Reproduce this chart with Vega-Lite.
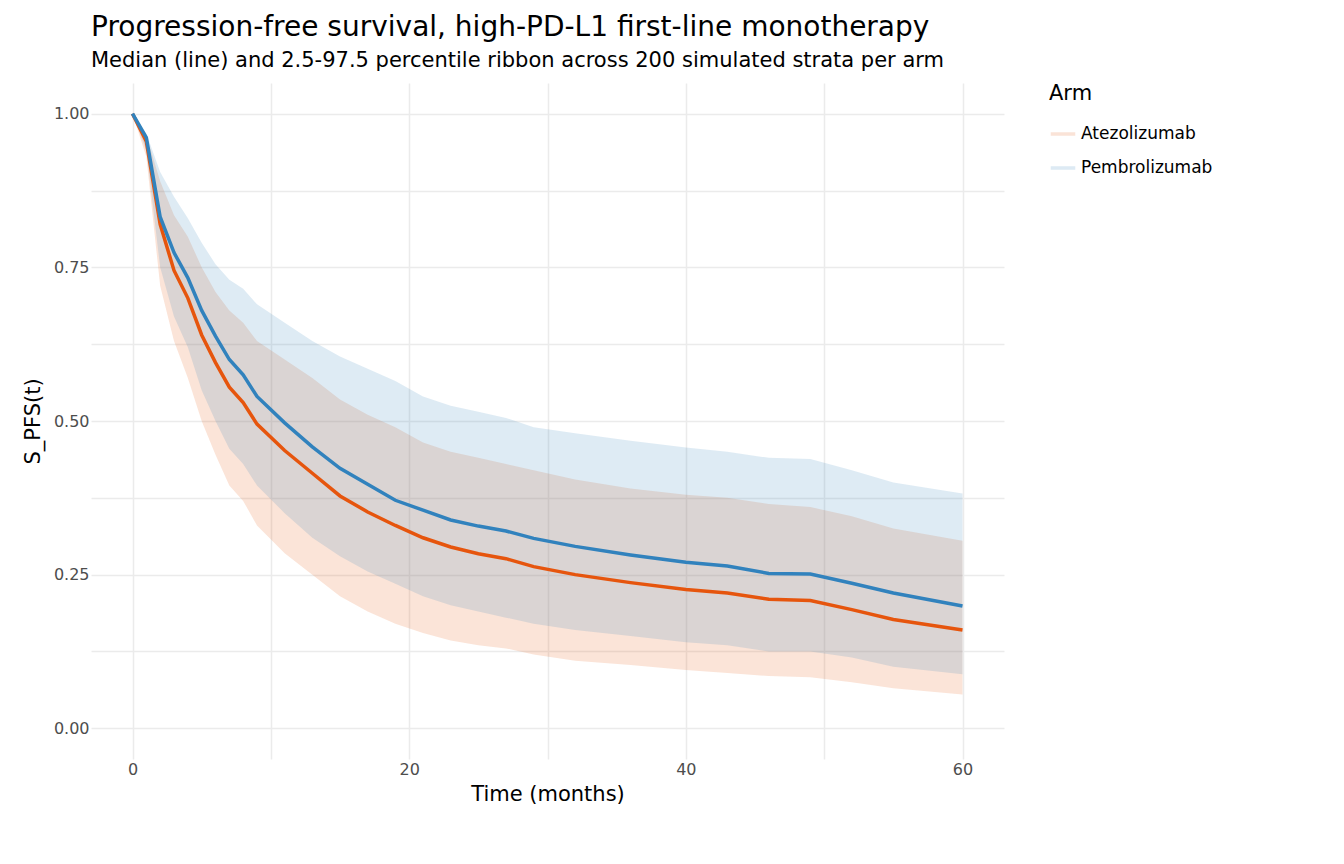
{
  "$schema": "https://vega.github.io/schema/vega-lite/v6.json",
  "width": 913,
  "height": 676,
  "padding": {"left": 22, "top": 14, "right": 10, "bottom": 10},
  "background": "white",
  "config": {
    "font": "DejaVu Sans",
    "view": {"stroke": null},
    "axis": {"domain": false, "ticks": false, "gridColor": "#ebebeb", "gridWidth": 1.5, "labelColor": "#4d4d4d", "labelFontSize": 16, "titleFontSize": 21, "titleFontWeight": "normal", "titleColor": "black"},
    "legend": {"titleFontSize": 21, "titleFontWeight": "normal", "labelFontSize": 17}
  },
  "title": {
    "text": "Progression-free survival, high-PD-L1 first-line monotherapy",
    "subtitle": "Median (line) and 2.5-97.5 percentile ribbon across 200 simulated strata per arm",
    "anchor": "start", "frame": "group", "fontSize": 28, "fontWeight": "normal",
    "subtitleFontSize": 21, "subtitleColor": "black", "offset": 12, "subtitlePadding": 8
  },
  "data": {"values": [
    {"arm":"Atezolizumab","t":0,"med":1.0,"lo":1.0,"hi":1.0},
    {"arm":"Atezolizumab","t":1,"med":0.955,"lo":0.93,"hi":0.965},
    {"arm":"Atezolizumab","t":2,"med":0.82,"lo":0.72,"hi":0.89},
    {"arm":"Atezolizumab","t":3,"med":0.745,"lo":0.63,"hi":0.835},
    {"arm":"Atezolizumab","t":4,"med":0.70,"lo":0.57,"hi":0.80},
    {"arm":"Atezolizumab","t":5,"med":0.64,"lo":0.50,"hi":0.75},
    {"arm":"Atezolizumab","t":6,"med":0.595,"lo":0.445,"hi":0.71},
    {"arm":"Atezolizumab","t":7,"med":0.555,"lo":0.395,"hi":0.68},
    {"arm":"Atezolizumab","t":8,"med":0.53,"lo":0.37,"hi":0.66},
    {"arm":"Atezolizumab","t":9,"med":0.495,"lo":0.33,"hi":0.63},
    {"arm":"Atezolizumab","t":11,"med":0.452,"lo":0.285,"hi":0.60},
    {"arm":"Atezolizumab","t":13,"med":0.415,"lo":0.25,"hi":0.57},
    {"arm":"Atezolizumab","t":15,"med":0.378,"lo":0.215,"hi":0.535},
    {"arm":"Atezolizumab","t":17,"med":0.352,"lo":0.19,"hi":0.51},
    {"arm":"Atezolizumab","t":19,"med":0.33,"lo":0.17,"hi":0.49},
    {"arm":"Atezolizumab","t":21,"med":0.31,"lo":0.155,"hi":0.465},
    {"arm":"Atezolizumab","t":23,"med":0.295,"lo":0.143,"hi":0.45},
    {"arm":"Atezolizumab","t":25,"med":0.284,"lo":0.135,"hi":0.44},
    {"arm":"Atezolizumab","t":27,"med":0.276,"lo":0.13,"hi":0.43},
    {"arm":"Atezolizumab","t":29,"med":0.263,"lo":0.12,"hi":0.42},
    {"arm":"Atezolizumab","t":32,"med":0.25,"lo":0.11,"hi":0.405},
    {"arm":"Atezolizumab","t":36,"med":0.237,"lo":0.103,"hi":0.39},
    {"arm":"Atezolizumab","t":40,"med":0.226,"lo":0.095,"hi":0.38},
    {"arm":"Atezolizumab","t":43,"med":0.22,"lo":0.09,"hi":0.375},
    {"arm":"Atezolizumab","t":46,"med":0.21,"lo":0.085,"hi":0.365},
    {"arm":"Atezolizumab","t":49,"med":0.208,"lo":0.083,"hi":0.36},
    {"arm":"Atezolizumab","t":52,"med":0.193,"lo":0.075,"hi":0.345},
    {"arm":"Atezolizumab","t":55,"med":0.177,"lo":0.065,"hi":0.325},
    {"arm":"Atezolizumab","t":60,"med":0.16,"lo":0.055,"hi":0.305},
    {"arm":"Pembrolizumab","t":0,"med":1.0,"lo":1.0,"hi":1.0},
    {"arm":"Pembrolizumab","t":1,"med":0.961,"lo":0.94,"hi":0.968},
    {"arm":"Pembrolizumab","t":2,"med":0.832,"lo":0.75,"hi":0.905},
    {"arm":"Pembrolizumab","t":3,"med":0.774,"lo":0.67,"hi":0.865},
    {"arm":"Pembrolizumab","t":4,"med":0.733,"lo":0.62,"hi":0.83},
    {"arm":"Pembrolizumab","t":5,"med":0.68,"lo":0.55,"hi":0.79},
    {"arm":"Pembrolizumab","t":6,"med":0.638,"lo":0.50,"hi":0.755},
    {"arm":"Pembrolizumab","t":7,"med":0.60,"lo":0.455,"hi":0.73},
    {"arm":"Pembrolizumab","t":8,"med":0.575,"lo":0.43,"hi":0.715},
    {"arm":"Pembrolizumab","t":9,"med":0.54,"lo":0.395,"hi":0.69},
    {"arm":"Pembrolizumab","t":11,"med":0.497,"lo":0.35,"hi":0.66},
    {"arm":"Pembrolizumab","t":13,"med":0.458,"lo":0.31,"hi":0.63},
    {"arm":"Pembrolizumab","t":15,"med":0.423,"lo":0.28,"hi":0.605},
    {"arm":"Pembrolizumab","t":17,"med":0.397,"lo":0.255,"hi":0.585},
    {"arm":"Pembrolizumab","t":19,"med":0.371,"lo":0.235,"hi":0.565},
    {"arm":"Pembrolizumab","t":21,"med":0.355,"lo":0.215,"hi":0.54},
    {"arm":"Pembrolizumab","t":23,"med":0.339,"lo":0.2,"hi":0.525},
    {"arm":"Pembrolizumab","t":25,"med":0.329,"lo":0.19,"hi":0.515},
    {"arm":"Pembrolizumab","t":27,"med":0.321,"lo":0.18,"hi":0.505},
    {"arm":"Pembrolizumab","t":29,"med":0.309,"lo":0.17,"hi":0.49},
    {"arm":"Pembrolizumab","t":32,"med":0.296,"lo":0.16,"hi":0.48},
    {"arm":"Pembrolizumab","t":36,"med":0.282,"lo":0.15,"hi":0.468},
    {"arm":"Pembrolizumab","t":40,"med":0.27,"lo":0.14,"hi":0.457},
    {"arm":"Pembrolizumab","t":43,"med":0.264,"lo":0.135,"hi":0.45},
    {"arm":"Pembrolizumab","t":46,"med":0.252,"lo":0.125,"hi":0.44},
    {"arm":"Pembrolizumab","t":49,"med":0.251,"lo":0.125,"hi":0.438},
    {"arm":"Pembrolizumab","t":52,"med":0.236,"lo":0.115,"hi":0.42},
    {"arm":"Pembrolizumab","t":55,"med":0.22,"lo":0.10,"hi":0.40},
    {"arm":"Pembrolizumab","t":60,"med":0.199,"lo":0.088,"hi":0.382}
  ]},
  "encoding": {
    "x": {"field": "t", "type": "quantitative", "title": "Time (months)",
      "scale": {"domain": [-3, 63], "nice": false, "zero": false},
      "axis": {"values": [0, 10, 20, 30, 40, 50, 60], "labelExpr": "datum.value % 20 === 0 ? datum.label : ''", "titlePadding": 6}},
    "color": {"field": "arm", "type": "nominal", "title": "Arm",
      "scale": {"domain": ["Atezolizumab", "Pembrolizumab"], "range": ["#E6550D", "#3182BD"]},
      "legend": {"symbolType": "stroke", "symbolStrokeWidth": 3.5, "symbolSize": 600, "rowPadding": 12, "titlePadding": 16, "offset": 45, "orient": "right"}}
  },
  "layer": [
    {
      "mark": {"type": "area", "opacity": 0.16},
      "encoding": {
        "y": {"field": "lo", "type": "quantitative"},
        "y2": {"field": "hi"}
      }
    },
    {
      "mark": {"type": "line", "strokeWidth": 3.5},
      "encoding": {
        "y": {"field": "med", "type": "quantitative", "title": "S_PFS(t)",
          "scale": {"domain": [-0.05, 1.05], "nice": false, "zero": false},
          "axis": {"values": [0, 0.125, 0.25, 0.375, 0.5, 0.625, 0.75, 0.875, 1], "format": ".2f", "labelExpr": "(datum.value * 4) % 1 === 0 ? datum.label : ''", "titlePadding": 10}}
      }
    }
  ]
}
